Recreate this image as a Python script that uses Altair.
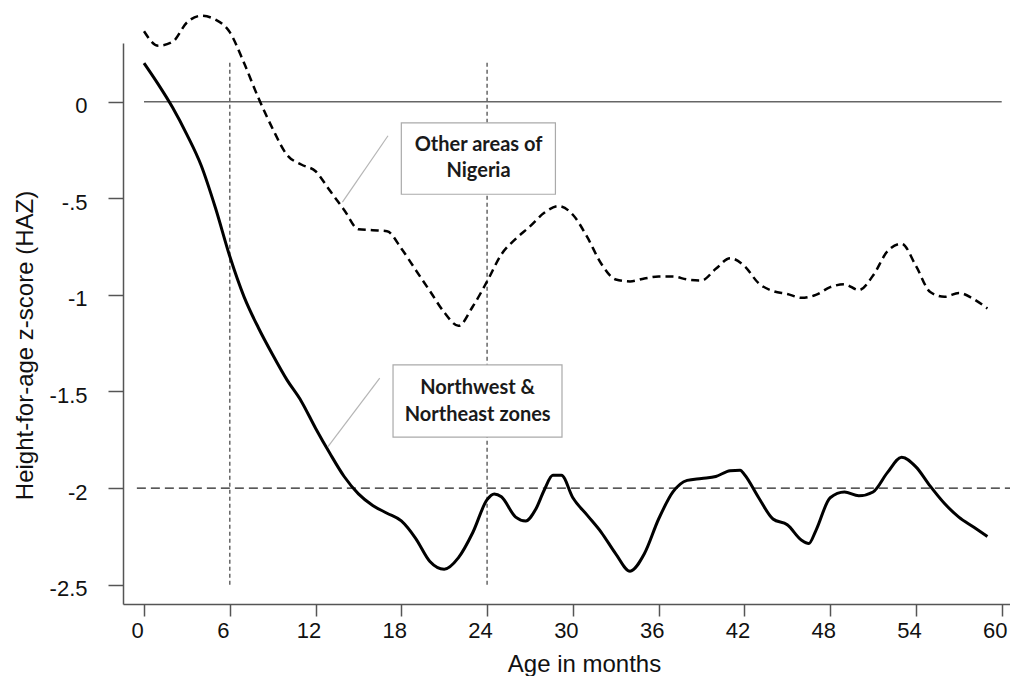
import altair as alt
import pandas as pd

# ---------------- data ----------------
nw_age = [0, 1, 2, 3, 4, 5, 6, 7, 8, 9, 10, 11, 12, 13, 14, 15, 16, 17, 18, 19,
          20, 21, 22, 23, 24, 24.5, 25, 26, 26.7, 27.4, 28, 28.6, 29.2, 30, 31, 32, 33, 34,
          35, 36, 37, 38, 39, 40, 41, 41.7, 42, 43, 44, 45, 46, 46.5, 47, 48, 49,
          50, 51, 52, 53, 54, 55, 56, 57, 58, 59]
nw_haz = [0.20, 0.09, -0.03, -0.17, -0.33, -0.55, -0.80, -1.01, -1.17, -1.31,
          -1.44, -1.55, -1.69, -1.82, -1.94, -2.03, -2.09, -2.13, -2.17, -2.26,
          -2.38, -2.42, -2.36, -2.23, -2.06, -2.03, -2.045, -2.15, -2.17, -2.11, -2.01,
          -1.934, -1.934, -2.05, -2.14, -2.23, -2.34, -2.43, -2.34, -2.16, -2.02,
          -1.96, -1.95, -1.94, -1.91, -1.907, -1.93, -2.05, -2.16, -2.19, -2.27,
          -2.287, -2.22, -2.05, -2.02, -2.04, -2.02, -1.92, -1.84, -1.89, -1.99,
          -2.08, -2.15, -2.20, -2.25]

other_age = list(range(0, 60))
other_haz = [0.365, 0.29, 0.31, 0.41, 0.445, 0.425, 0.36, 0.20, 0.02, -0.14,
             -0.275, -0.325, -0.36, -0.46, -0.56, -0.66, -0.665, -0.67, -0.76, -0.87,
             -0.98, -1.09, -1.16, -1.06, -0.93, -0.79, -0.71, -0.645, -0.575, -0.54,
             -0.585, -0.70, -0.84, -0.92, -0.93, -0.915, -0.905, -0.905, -0.92, -0.925,
             -0.865, -0.81, -0.85, -0.94, -0.98, -0.995, -1.015, -1.00, -0.96, -0.945,
             -0.975, -0.90, -0.775, -0.735, -0.85, -0.985, -1.01, -0.99, -1.02, -1.07]

x_ticks = [0, 6, 12, 18, 24, 30, 36, 42, 48, 54, 60]
y_ticks = [0, -0.5, -1, -1.5, -2, -2.5]
y_tick_labels = ["0", "-.5", "-1", "-1.5", "-2", "-2.5"]

x_domain = [-1.47, 60.58]
y_domain = [-2.6, 0.304]

# reference lines
zero_line = {"x": [0], "x2": [60], "y": [0]}
stunting_line = {"x": [-0.5], "x2": [60.58], "y": [-2]}
vert_lines = {"x": [6, 24], "y": [-2.5, -2.5], "y2": [0.207, 0.207]}

# annotations
box_x = [18.0, 17.42]
box_x2 = [28.78, 29.24]
box_y = [-0.109, -1.362]
box_y2 = [-0.479, -1.736]
label_lines = ["Other areas of", "Nigeria", "Northwest &", "Northeast  zones"]
label_x = [23.4, 23.4, 23.34, 23.34]
label_y = [-0.226, -0.360, -1.481, -1.624]
leader_x = [17.07, 16.49]
leader_x2 = [13.88, 12.87]
leader_y = [-0.176, -1.431]
leader_y2 = [-0.520, -1.785]

# ---------------- chart ----------------
FONT = "Liberation Sans, Arial, sans-serif"

xs = alt.Scale(domain=x_domain, nice=False, zero=False)
ys = alt.Scale(domain=y_domain, nice=False, zero=False)

label_expr = " : ".join(
    f"abs(datum.value - ({v})) < 0.001 ? '{t}'" for v, t in zip(y_ticks, y_tick_labels)
) + " : ''"

x_axis = alt.Axis(
    values=x_ticks, format="d", grid=False,
    domainColor="#555", domainWidth=1.5, tickColor="#555", tickWidth=1.5,
    tickSize=12, labelPadding=4, labelFontSize=22, labelFont=FONT, labelColor="#111",
    labelOffset=-7, labelFlush=False,
    title="Age in months", titleFont=FONT, titleFontSize=24, titleFontWeight="normal",
    titleColor="#111", titleX=461, titleY=67, titleBaseline="alphabetic", titleAlign="center",
)
y_axis = alt.Axis(
    values=y_ticks, labelExpr=label_expr, grid=False,
    domainColor="#555", domainWidth=1.5, tickColor="#555", tickWidth=1.5,
    tickSize=15, labelPadding=21, labelFontSize=22, labelFont=FONT, labelColor="#111",
    labelOffset=4, labelFlush=False,
    title="Height-for-age z-score (HAZ)", titleFont=FONT, titleFontSize=24,
    titleFontWeight="normal", titleColor="#111", titleAngle=270, titleX=-91, titleY=302,
    titleBaseline="alphabetic", titleAlign="center",
)


def X(field):
    return alt.X(field, type="quantitative", scale=xs, axis=x_axis)


def Y(field):
    return alt.Y(field, type="quantitative", scale=ys, axis=y_axis)


nw_df = pd.DataFrame({"age": nw_age, "haz": nw_haz})
other_df = pd.DataFrame({"age": other_age, "haz": other_haz})

zero_rule = alt.Chart(pd.DataFrame(zero_line)).mark_rule(
    color="#666", strokeWidth=1.5
).encode(x=X("x"), x2="x2", y=Y("y"))

stunt_rule = alt.Chart(pd.DataFrame(stunting_line)).mark_rule(
    color="#222", strokeWidth=1.3, strokeDash=[9, 5]
).encode(x=X("x"), x2="x2", y=Y("y"))

vert_rule = alt.Chart(pd.DataFrame(vert_lines)).mark_rule(
    color="#666", strokeWidth=1.5, strokeDash=[4, 3]
).encode(x=X("x"), y=Y("y"), y2="y2")

other_line = alt.Chart(other_df).mark_line(
    color="#000", strokeWidth=2.5, strokeDash=[8, 5], interpolate="monotone", clip=False
).encode(x=X("age"), y=Y("haz"))

nw_line = alt.Chart(nw_df).mark_line(
    color="#000", strokeWidth=3, interpolate="monotone"
).encode(x=X("age"), y=Y("haz"))

leaders = alt.Chart(pd.DataFrame({"x": leader_x, "x2": leader_x2,
                                  "y": leader_y, "y2": leader_y2})).mark_rule(
    color="#b5b5b5", strokeWidth=1.2
).encode(x=X("x"), x2="x2", y=Y("y"), y2="y2")

boxes = alt.Chart(pd.DataFrame({"x": box_x, "x2": box_x2,
                                "y": box_y, "y2": box_y2})).mark_rect(
    fill="white", stroke="#aaaaaa", strokeWidth=1.2
).encode(x=X("x"), x2="x2", y=Y("y"), y2="y2")

texts = alt.Chart(pd.DataFrame({"x": label_x, "y": label_y, "t": label_lines})).mark_text(
    font="Lato", fontWeight="bold", fontSize=20, color="#1a1a1a",
    align="center", baseline="middle"
).encode(x=X("x"), y=Y("y"), text="t:N")

chart = alt.layer(
    zero_rule, stunt_rule, vert_rule, other_line, nw_line, leaders, boxes, texts
).properties(
    width=887, height=561,
    autosize=alt.AutoSizeParams(type="none"),
    padding={"left": 115, "top": 35, "right": 0, "bottom": 72},
    background="white",
).configure_view(stroke=None)

chart.save("out.html", embed_options={"renderer": "svg", "actions": False})
